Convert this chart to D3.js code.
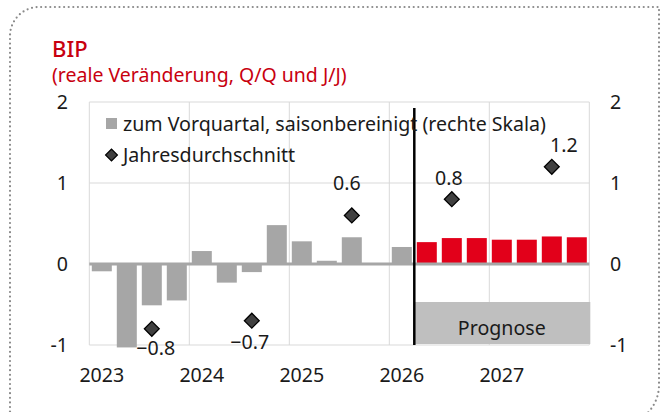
<!DOCTYPE html>
<html>
<head>
<meta charset="utf-8">
<script src="https://cdn.jsdelivr.net/npm/d3@7"></script>
<style>
  body { margin: 0; background: #fff; }
  svg { display: block; font-family: "Noto Sans", Roboto, sans-serif; }
</style>
</head>
<body>
<div id="chart"></div>
<script>
// quarterly change vs. previous quarter (seasonally adjusted), 2023Q1..2027Q4
const years = [2023, 2024, 2025, 2026, 2027];
const quarters = years.flatMap(y => [1, 2, 3, 4].map(q => `${y}Q${q}`));
const qoq = [
    -0.09, -1.03, -0.51, -0.45,
    0.16, -0.23, -0.10, 0.48,
    0.28, 0.04, 0.33, 0.01,
    0.21, 0.27, 0.32, 0.32,
    0.30, 0.30, 0.34, 0.33
];
const forecastStart = '2026Q2';
// annual averages
const annualYears = [2023, 2024, 2025, 2026, 2027];
const annualAvg = [-0.8, -0.7, 0.6, 0.8, 1.2];
const yTicks = [-1, 0, 1, 2];

const W = 667, H = 412;
const plot = {left: 89.3, right: 589.3, top: 102, bottom: 345};

const RED = '#e2001a', GREY = '#a6a6a6', TITLE_RED = '#c8000f';
const FS = '19.6px';

const svg = d3.select('#chart').append('svg')
    .attr('width', W)
    .attr('height', H);

// dotted frame, rounded top-left and bottom-right
const frame = d3.path();
frame.moveTo(10, 430);
frame.lineTo(10, 36);
frame.arcTo(10, 7, 39, 7, 29);
frame.lineTo(659, 7);
frame.lineTo(659, 385);
frame.arcTo(659, 425, 619, 425, 40);
frame.lineTo(10, 425);
svg.append('path')
    .attr('d', frame.toString())
    .attr('fill', 'none')
    .attr('stroke', '#8a8a8a')
    .attr('stroke-width', 2.2)
    .attr('stroke-linecap', 'round')
    .attr('stroke-dasharray', '0 4.6');

svg.append('text')
    .attr('x', 52).attr('y', 57)
    .attr('fill', TITLE_RED)
    .style('font-size', '22px')
    .style('font-weight', 500)
    .text('BIP');
svg.append('text')
    .attr('x', 52).attr('y', 82)
    .attr('fill', TITLE_RED)
    .style('font-size', '19.5px')
    .text('(reale Veränderung, Q/Q und J/J)');

const x = d3.scaleBand()
    .domain(quarters)
    .range([plot.left, plot.right])
    .paddingInner(0.2)
    .paddingOuter(0.1);
const y = d3.scaleLinear()
    .domain([-1, 2])
    .range([plot.bottom, plot.top]);

const yearStart = yr => x(`${yr}Q1`) - x.step() * x.paddingOuter();

// grid
const grid = svg.append('g').attr('stroke', '#d9d9d9').attr('stroke-width', 1);
grid.selectAll('line.h')
    .data(yTicks.filter(t => t !== 0))
    .join('line')
        .attr('class', 'h')
        .attr('x1', plot.left).attr('x2', plot.right)
        .attr('y1', d => y(d)).attr('y2', d => y(d));
grid.selectAll('line.v')
    .data([...years, 2028])
    .join('line')
        .attr('class', 'v')
        .attr('x1', d => d === 2028 ? plot.right : yearStart(d))
        .attr('x2', d => d === 2028 ? plot.right : yearStart(d))
        .attr('y1', plot.top).attr('y2', plot.bottom);

// forecast box
const fx = x(forecastStart) - x.step() * x.paddingInner() / 2;
svg.append('rect')
    .attr('x', fx).attr('y', 302)
    .attr('width', plot.right + 1 - fx).attr('height', 42)
    .attr('fill', '#bfbfbf');
svg.append('text')
    .attr('x', (fx + plot.right) / 2).attr('y', 335)
    .attr('text-anchor', 'middle')
    .attr('fill', '#1a1a1a')
    .style('font-size', FS)
    .text('Prognose');

// bars
const fIdx = quarters.indexOf(forecastStart);
svg.append('g').selectAll('rect')
    .data(qoq)
    .join('rect')
        .attr('x', (d, i) => x(quarters[i]))
        .attr('width', x.bandwidth())
        .attr('y', d => y(Math.max(0, d)))
        .attr('height', d => Math.abs(y(d) - y(0)))
        .attr('fill', (d, i) => i >= fIdx ? RED : GREY);

// zero line
svg.append('line')
    .attr('x1', plot.left).attr('x2', plot.right)
    .attr('y1', y(0)).attr('y2', y(0))
    .attr('stroke', GREY).attr('stroke-width', 3);

// forecast divider
svg.append('line')
    .attr('x1', fx).attr('x2', fx)
    .attr('y1', 108).attr('y2', plot.bottom)
    .attr('stroke', '#000').attr('stroke-width', 2.5);

// annual average diamonds
const diamond = d3.symbol().type(d3.symbolSquare).size(110);
const dx = yr => x(`${yr}Q3`) + x.bandwidth() / 2;
svg.append('g').selectAll('path')
    .data(annualAvg)
    .join('path')
        .attr('d', diamond)
        .attr('transform', (d, i) => `translate(${dx(annualYears[i])},${y(d)}) rotate(45)`)
        .attr('fill', '#404040')
        .attr('stroke', '#000')
        .attr('stroke-width', 1.3);

// value labels (offsets from the marker)
const labelOffsets = [[4, 26], [-2, 28], [-5, -25], [-3, -14], [12, -15]];
svg.append('g').selectAll('text')
    .data(annualAvg)
    .join('text')
        .attr('x', (d, i) => dx(annualYears[i]) + labelOffsets[i][0])
        .attr('y', (d, i) => y(d) + labelOffsets[i][1])
        .attr('text-anchor', 'middle')
        .attr('fill', '#1a1a1a')
        .style('font-size', FS)
        .text(d => d3.format('.1f')(d));

// y labels, left and right
const axisText = svg.append('g')
    .attr('fill', '#1a1a1a')
    .style('font-size', FS);
axisText.selectAll('text.l')
    .data(yTicks)
    .join('text')
        .attr('class', 'l')
        .attr('x', 68).attr('y', d => y(d))
        .attr('dy', '0.36em')
        .attr('text-anchor', 'end')
        .text(d => d);
axisText.selectAll('text.r')
    .data(yTicks)
    .join('text')
        .attr('class', 'r')
        .attr('x', 610).attr('y', d => y(d))
        .attr('dy', '0.36em')
        .text(d => d);

// year labels under Q1
axisText.selectAll('text.yr')
    .data(years)
    .join('text')
        .attr('class', 'yr')
        .attr('x', d => x(`${d}Q1`) + x.bandwidth() / 2)
        .attr('y', 382)
        .attr('text-anchor', 'middle')
        .text(d => d);

// legend
const legend = svg.append('g').attr('fill', '#1a1a1a').style('font-size', FS);
legend.append('rect')
    .attr('x', 106).attr('y', 118).attr('width', 11).attr('height', 11)
    .attr('fill', GREY);
legend.append('text')
    .attr('x', 123).attr('y', 131)
    .text('zum Vorquartal, saisonbereinigt (rechte Skala)');
legend.append('path')
    .attr('d', d3.symbol().type(d3.symbolSquare).size(70))
    .attr('transform', 'translate(111.5,155) rotate(45)')
    .attr('fill', '#404040')
    .attr('stroke', '#000')
    .attr('stroke-width', 1.2);
legend.append('text')
    .attr('x', 123).attr('y', 162)
    .text('Jahresdurchschnitt');
</script>
</body>
</html>
